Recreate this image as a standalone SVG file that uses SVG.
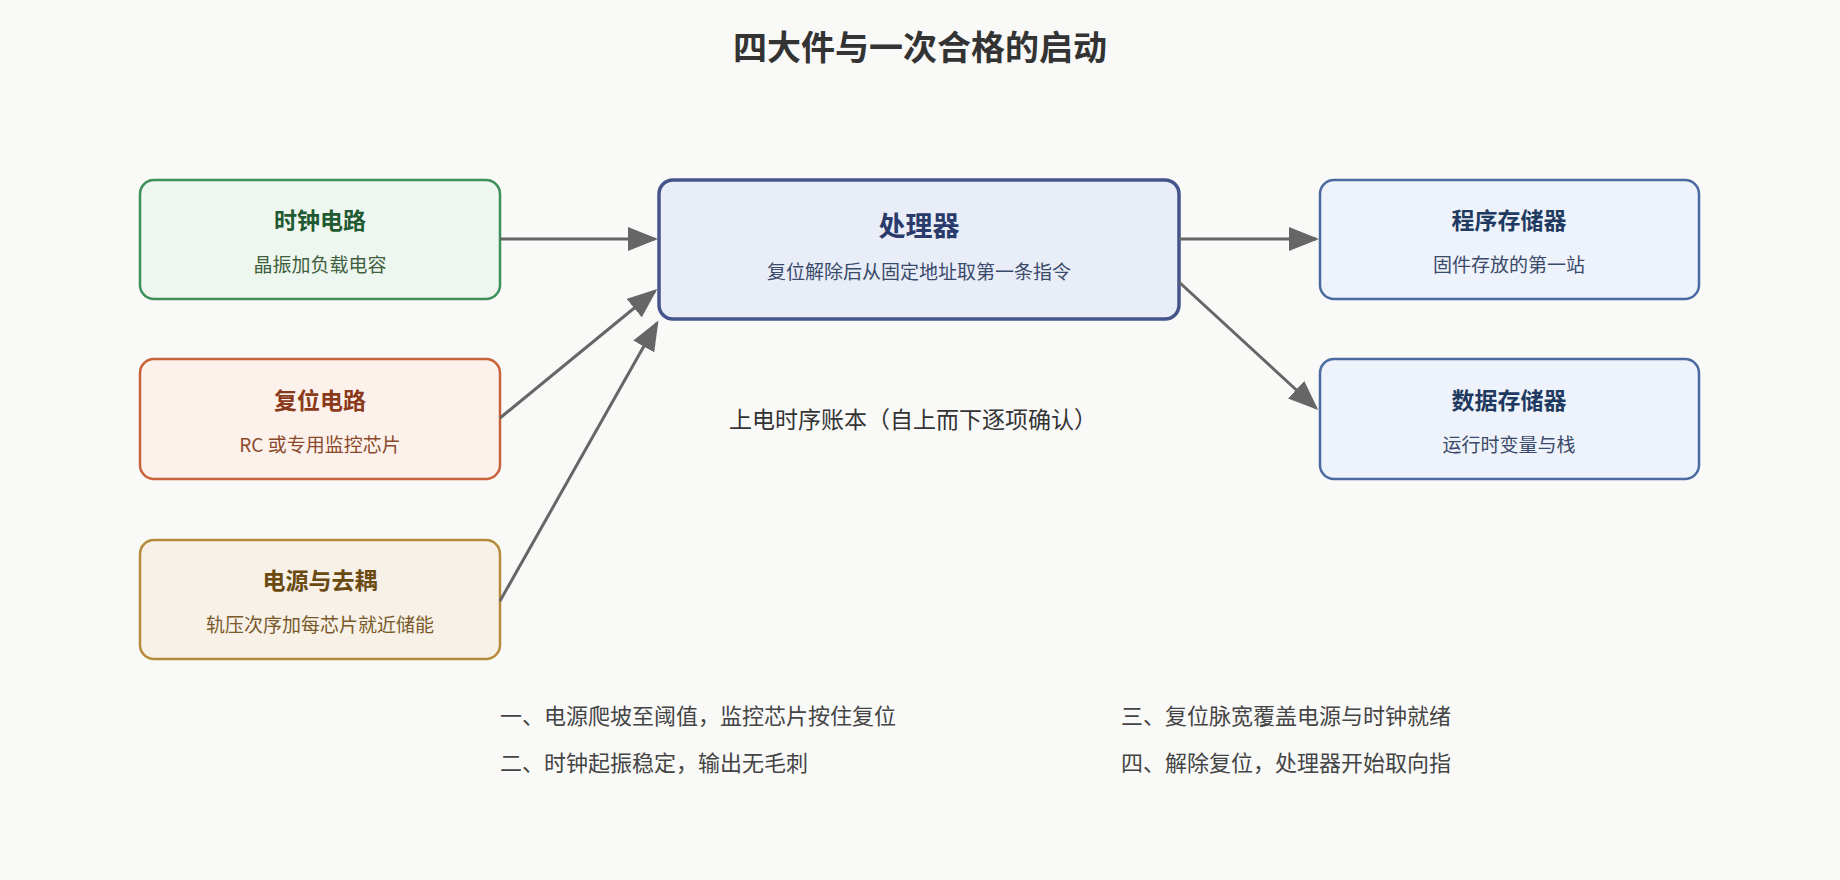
<svg xmlns="http://www.w3.org/2000/svg" width="1840" height="880" viewBox="0 0 1840 880">
<style>
text{font-family:"Noto Sans CJK SC","Noto Sans",sans-serif;text-anchor:middle}
.t{font-size:23px;font-weight:bold}
.s{font-size:19px}
.c{stroke:#666;stroke-width:3;fill:none;marker-end:url(#a)}
.n{font-size:22px;fill:#444;text-anchor:start}
</style>
<defs><marker id="a" markerWidth="10" markerHeight="8" refX="9" refY="4" orient="auto" markerUnits="strokeWidth"><path d="M0,0L10,4L0,8z" fill="#666"/></marker></defs>
<rect width="1840" height="880" fill="#f9f9f8"/>
<text x="920" y="60" font-size="34" font-weight="bold" fill="#333">四大件与一次合格的启动</text>
<g id="clock"><rect x="140" y="180" width="360" height="119" rx="14" fill="#eef7ef" stroke="#3f8f5a" stroke-width="2.5"/><text class="t" x="320" y="229" fill="#1f5a33">时钟电路</text><text class="s" x="320" y="272" fill="#3f5f3f">晶振加负载电容</text></g>
<g id="reset"><rect x="140" y="359" width="360" height="120" rx="14" fill="#fdf1ec" stroke="#c8623a" stroke-width="2.5"/><text class="t" x="320" y="409" fill="#8a3a1a">复位电路</text><text class="s" x="320" y="452" fill="#8a4a2a">RC 或专用监控芯片</text></g>
<g id="power"><rect x="140" y="540" width="360" height="119" rx="14" fill="#f7f1e8" stroke="#b58a3a" stroke-width="2.5"/><text class="t" x="320" y="589" fill="#6a4a10">电源与去耦</text><text class="s" x="320" y="632" fill="#7a5a2a">轨压次序加每芯片就近储能</text></g>
<g id="cpu"><rect x="659" y="180" width="520" height="139" rx="14" fill="#e8edf8" stroke="#45558a" stroke-width="3.5"/><text x="919" y="236" font-size="27" font-weight="bold" fill="#2a3a6a">处理器</text><text class="s" x="919" y="279" fill="#3a4a6a">复位解除后从固定地址取第一条指令</text></g>
<g id="prog"><rect x="1320" y="180" width="379" height="119" rx="14" fill="#eef2fb" stroke="#4a6aa0" stroke-width="2.5"/><text class="t" x="1509" y="229" fill="#1f3a60">程序存储器</text><text class="s" x="1509" y="272" fill="#3a4a6a">固件存放的第一站</text></g>
<g id="data"><rect x="1320" y="359" width="379" height="120" rx="14" fill="#eef2fb" stroke="#4a6aa0" stroke-width="2.5"/><text class="t" x="1509" y="409" fill="#1f3a60">数据存储器</text><text class="s" x="1509" y="452" fill="#3a4a6a">运行时变量与栈</text></g>
<g id="connectors">
<line class="c" x1="500" y1="239" x2="655" y2="239"/>
<line class="c" x1="500" y1="418" x2="655" y2="291"/>
<line class="c" x1="500" y1="601" x2="657" y2="323"/>
<line class="c" x1="1179" y1="239" x2="1316" y2="239"/>
<line class="c" x1="1179" y1="282" x2="1316" y2="408"/>
</g>
<text x="913" y="428" font-size="23" fill="#333">上电时序账本（自上而下逐项确认）</text>
<text class="n" x="500" y="724">一、电源爬坡至阈值，监控芯片按住复位</text>
<text class="n" x="500" y="771">二、时钟起振稳定，输出无毛刺</text>
<text class="n" x="1121" y="724">三、复位脉宽覆盖电源与时钟就绪</text>
<text class="n" x="1121" y="771">四、解除复位，处理器开始取向指</text>
</svg>
